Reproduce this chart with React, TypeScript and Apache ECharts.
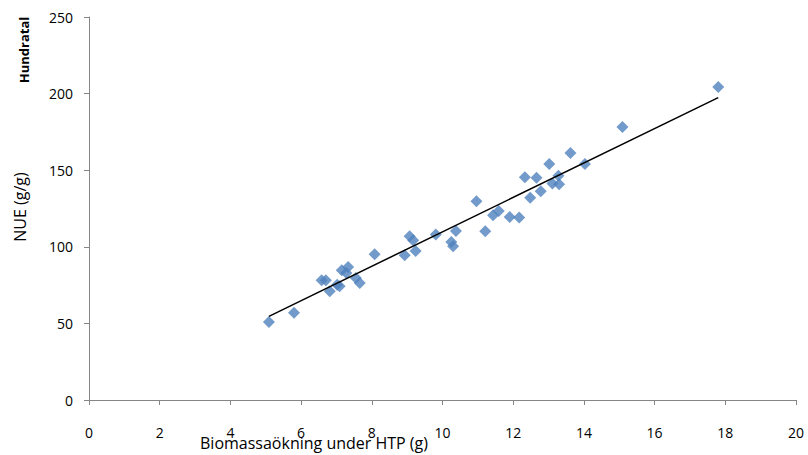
import React, { useEffect, useRef } from "react";
import * as echarts from "echarts";

const xTicks = [0, 2, 4, 6, 8, 10, 12, 14, 16, 18, 20];
const yTicks = [0, 50, 100, 150, 200, 250];

// [Biomassaökning (g), NUE (g/g)]
const points: [number, number][] = [
  [5.09, 50.9], [5.8, 57.0], [6.58, 78.1], [6.7, 78.1], [6.81, 71.0],
  [7.02, 75.3], [7.09, 74.2], [7.15, 84.7], [7.33, 86.8], [7.28, 82.9],
  [7.55, 79.6], [7.66, 76.4], [8.08, 95.1], [8.93, 94.5], [9.07, 106.9],
  [9.17, 104.2], [9.24, 97.3], [9.81, 108.0], [10.25, 103.1], [10.3, 100.3],
  [10.38, 110.3], [10.96, 129.7], [11.21, 110.1], [11.43, 120.6], [11.59, 123.4],
  [11.9, 119.5], [12.17, 119.1], [12.33, 145.4], [12.48, 132.0], [12.66, 145.0],
  [12.78, 136.2], [13.02, 154.0], [13.11, 141.4], [13.28, 146.3], [13.3, 140.8],
  [13.62, 161.2], [14.03, 154.0], [15.09, 178.2], [17.8, 204.3],
];

const trendLine: [number, number][] = [
  [5.09, 54.6],
  [17.8, 197.4],
];

const FONT = "Open Sans";

export default function App() {
  const ref = useRef<HTMLDivElement>(null);
  useEffect(() => {
    if (!ref.current) return;
    document.body.style.margin = "0";
    const chart = echarts.init(ref.current, null, { renderer: "svg" });
    chart.setOption({
      animation: false,
      backgroundColor: "#ffffff",
      grid: { left: 89, right: 12, top: 17, bottom: 55, containLabel: false },
      xAxis: {
        type: "value",
        min: 0,
        max: 20,
        interval: 2,
        axisLine: { show: true, lineStyle: { color: "#868686", width: 1 } },
        axisTick: { show: true, length: 5, lineStyle: { color: "#868686" } },
        splitLine: { show: false },
        axisLabel: {
          margin: 25,
          color: "#000",
          fontFamily: FONT,
          fontSize: 14,
          formatter: (v: number) => (xTicks.includes(v) ? String(v) : ""),
        },
      },
      yAxis: {
        type: "value",
        min: 0,
        max: 250,
        interval: 50,
        axisLine: { show: true, lineStyle: { color: "#868686", width: 1 } },
        axisTick: { show: true, length: 5, lineStyle: { color: "#868686" } },
        splitLine: { show: false },
        axisLabel: {
          margin: 16,
          color: "#000",
          fontFamily: FONT,
          fontSize: 14,
          formatter: (v: number) => (yTicks.includes(v) ? String(v) : ""),
        },
      },
      graphic: [
        {
          type: "text",
          x: 24,
          y: 50,
          rotation: Math.PI / 2,
          style: {
            text: "Hundratal",
            fontFamily: FONT,
            fontSize: 13,
            fontWeight: "bold",
            fill: "#000",
            align: "center",
            verticalAlign: "middle",
          },
        },
        {
          type: "text",
          x: 20,
          y: 207,
          rotation: Math.PI / 2,
          style: {
            text: "NUE (g/g)",
            fontFamily: FONT,
            fontSize: 16,
            fill: "#000",
            align: "center",
            verticalAlign: "middle",
          },
        },
        {
          type: "text",
          x: 314,
          y: 443,
          style: {
            text: "Biomassaökning under HTP (g)",
            fontFamily: FONT,
            fontSize: 16,
            fill: "#000",
            align: "center",
            verticalAlign: "middle",
          },
        },
      ],
      series: [
        {
          type: "scatter",
          data: points,
          symbol: "diamond",
          symbolSize: [12, 12],
          itemStyle: { color: "#4F81BD" },
          z: 2,
        },
        {
          type: "line",
          data: trendLine,
          symbol: "none",
          lineStyle: { color: "#000", width: 1.5 },
          z: 3,
        },
      ],
    });
    return () => chart.dispose();
  }, []);
  return <div ref={ref} style={{ width: 808, height: 455 }} />;
}
